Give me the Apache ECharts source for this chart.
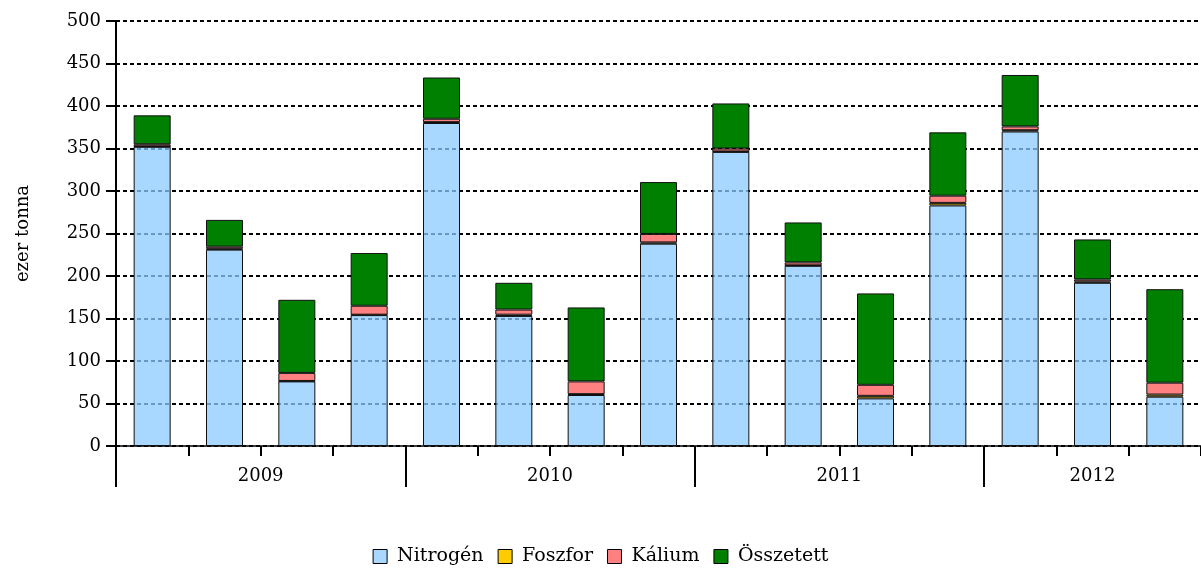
<!DOCTYPE html>
<html>
<head>
<meta charset="utf-8">
<script src="https://cdn.jsdelivr.net/npm/echarts@6/dist/echarts.min.js"></script>
<style>
html,body{margin:0;padding:0;background:#fff;}
#chart{width:1201px;height:568px;}
</style>
</head>
<body>
<div id="chart"></div>
<script>
// Quarters 2009 Q1 – 2012 Q3
var categories = ['2009 I','2009 II','2009 III','2009 IV','2010 I','2010 II','2010 III','2010 IV','2011 I','2011 II','2011 III','2011 IV','2012 I','2012 II','2012 III'];
var years = ['2009','2010','2011','2012'];
var quartersPerYear = [4, 4, 4, 3];
var nitrogen = [352, 231, 76, 154, 380, 153, 60, 238, 346, 212, 56, 283, 370, 192, 58];
var foszfor  = [0.5, 1, 0.5, 0.5, 1, 1.5, 1, 1.5, 0.5, 0.5, 3, 3, 1.5, 1.5, 2.5];
var kalium   = [2.5, 2.5, 9.5, 10.5, 4, 6, 15, 10, 3.5, 3.5, 13, 8.5, 4.5, 2.5, 14];
var osszetett= [34, 31.5, 86, 62, 48.5, 31.5, 87, 61, 53, 47, 107.5, 74.5, 60.5, 47, 110];
var yTicks = {min: 0, max: 500, interval: 50};

var yearBounds = [], yearCenters = [], acc = 0;
quartersPerYear.forEach(function (q) { yearBounds.push(acc); yearCenters.push(acc + q / 2); acc += q; });

var font = 'DejaVu Serif';
var chart = echarts.init(document.getElementById('chart'));
function bar(name, data, color) {
  return {
    name: name, type: 'bar', stack: 'total', data: data, barWidth: 37, xAxisIndex: 0,
    itemStyle: {color: color, borderColor: '#111', borderWidth: 1}
  };
}
chart.setOption({
  animation: false,
  backgroundColor: '#fff',
  grid: {left: 116, right: 0, top: 21, bottom: 122},
  legend: {
    top: 542, left: 'center', itemWidth: 14, itemHeight: 14, itemGap: 14,
    icon: 'rect',
    itemStyle: {borderColor: '#000', borderWidth: 1},
    textStyle: {fontFamily: font, fontSize: 19, color: '#000', padding: [0, 0, 0, 5]},
    data: ['Nitrogén', 'Foszfor', 'Kálium', 'Összetett']
  },
  xAxis: [{
    type: 'category', data: categories, boundaryGap: true,
    axisLine: {lineStyle: {color: '#000', width: 1.5}},
    axisTick: {show: true, length: 10, lineStyle: {color: '#000', width: 2}},
    axisLabel: {show: false}
  }, {
    type: 'value', min: 0, max: acc, position: 'bottom',
    axisLine: {show: false}, splitLine: {show: false},
    axisTick: {show: true, length: 41, customValues: yearBounds, lineStyle: {color: '#000', width: 2}},
    axisLabel: {
      show: true, customValues: yearCenters, margin: 21,
      fontFamily: font, fontSize: 18, color: '#000',
      formatter: function (v) { var i = yearCenters.indexOf(v); return i >= 0 ? years[i] : ''; }
    }
  }],
  yAxis: {
    type: 'value', min: yTicks.min, max: yTicks.max, interval: yTicks.interval,
    name: 'ezer tonna', nameLocation: 'middle', nameRotate: 90, nameGap: 84,
    nameTextStyle: {fontFamily: font, fontSize: 18, color: '#000'},
    axisLine: {show: true, lineStyle: {color: '#000', width: 2}},
    axisTick: {show: true, length: 10, lineStyle: {color: '#000', width: 2}},
    axisLabel: {fontFamily: font, fontSize: 18, color: '#000', margin: 15},
    splitLine: {show: true, lineStyle: {color: '#000', width: 2, type: [4, 3]}}
  },
  series: [
    bar('Nitrogén', nitrogen, 'rgba(139,203,255,0.75)'),
    bar('Foszfor', foszfor, '#FFCC00'),
    bar('Kálium', kalium, '#FF8080'),
    bar('Összetett', osszetett, '#008000')
  ]
});
</script>
</body>
</html>
